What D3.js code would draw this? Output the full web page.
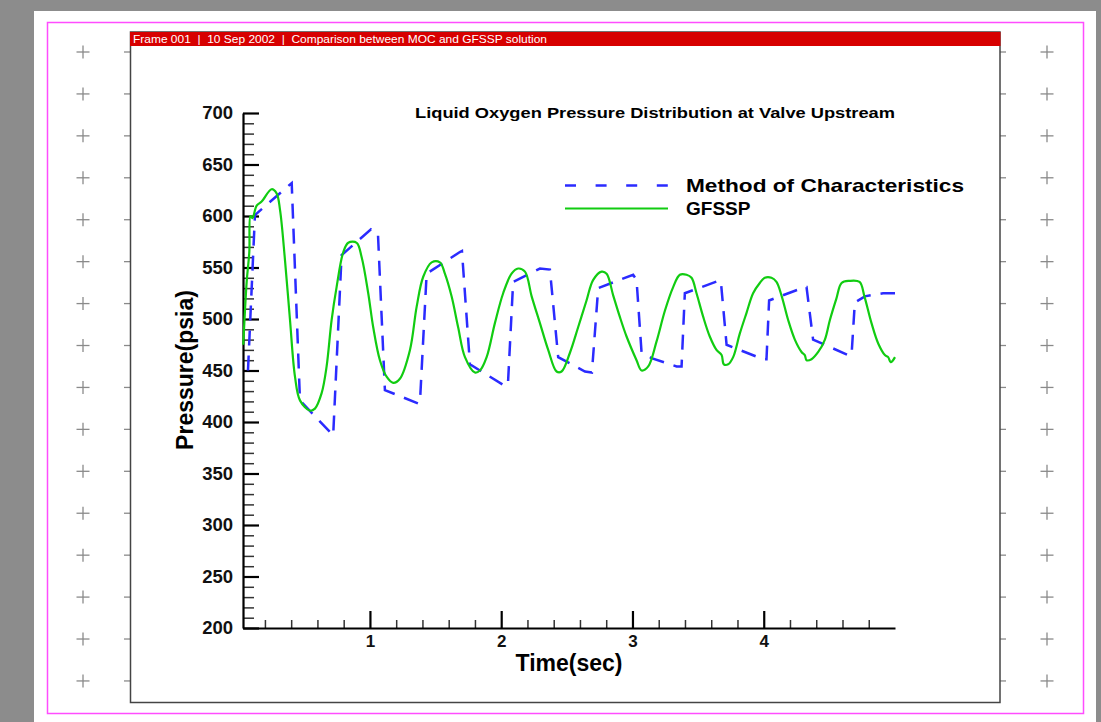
<!DOCTYPE html>
<html><head><meta charset="utf-8">
<script src="https://cdn.jsdelivr.net/npm/d3@7"></script>
<style>html,body{margin:0;padding:0;background:#fff;}svg{display:block;}</style>
</head><body>
<script>
// ---- data ----
const headerText = "Frame 001  |  10 Sep 2002  |  Comparison between MOC and GFSSP solution";
const chartTitle = "Liquid Oxygen Pressure Distribution at Valve Upstream";
const seriesNames = ["Method of Characteristics", "GFSSP"];
const xLabel = "Time(sec)";
const yLabel = "Pressure(psia)";
const xTicks = [1, 2, 3, 4];
const yTicks = [200, 250, 300, 350, 400, 450, 500, 550, 600, 650, 700];

const mocTime = [0.071,0.124,0.404,0.467,0.720,0.784,1.008,1.061,1.114,1.368,1.381,1.432,1.685,1.701,1.762,2.028,2.051,2.091,2.295,2.371,2.434,2.638,2.691,2.739,3.005,3.031,3.069,3.145,3.336,3.374,3.399,3.653,3.673,3.717,3.995,4.021,4.041,4.313,4.326,4.376,4.643,4.669,4.694,4.770,4.909,5.0];
const mocPressure = [450,601,632,421,387,562,587,583,431,418,419,544,565,566,456,435,436,536,549,548,463,449,448,530,543,538,468,462,454,454,525,537,537,475,461,461,518,531,531,480,465,465,516,522,525,525];

const gfsspTime = [0.035,0.061,0.081,0.090,0.105,0.137,0.175,0.251,0.289,0.315,0.353,0.391,0.429,0.467,0.543,0.581,0.632,0.670,0.708,0.746,0.797,0.835,0.899,0.937,0.987,1.025,1.076,1.127,1.177,1.228,1.305,1.356,1.406,1.470,1.533,1.571,1.622,1.672,1.724,1.800,1.838,1.889,1.952,2.015,2.079,2.129,2.181,2.232,2.295,2.358,2.422,2.460,2.523,2.586,2.650,2.701,2.765,2.803,2.853,2.904,2.955,3.031,3.069,3.120,3.183,3.247,3.310,3.361,3.412,3.450,3.488,3.539,3.589,3.640,3.679,3.696,3.729,3.767,3.818,3.869,3.919,3.970,4.008,4.059,4.097,4.135,4.186,4.237,4.288,4.313,4.326,4.364,4.415,4.466,4.504,4.554,4.593,4.652,4.730,4.767,4.821,4.873,4.923,4.948,4.967,4.985,5.0];
const gfsspPressure = [475,536,565,600,598,610,614,626,622,606,557,499,444,421,411,413,428,454,499,531,565,574,574,560,525,492,460,444,438,442,470,512,541,555,555,544,522,492,463,448,450,463,496,525,544,549,546,522,496,470,449,449,467,492,518,538,546,544,523,502,483,460,450,454,478,508,531,543,543,540,525,502,483,470,465,456,456,463,486,506,525,535,540,540,536,523,499,480,468,465,460,461,468,480,499,520,535,537,536,522,496,476,465,463,458,460,463];

// ---- layout ----
const W = 1101, H = 722;
const svg = d3.select("body").append("svg").attr("width", W).attr("height", H)
  .style("font-family", "'Liberation Sans', Arial, sans-serif");

svg.append("rect").attr("x",0).attr("y",0).attr("width",W).attr("height",H).attr("fill","#8c8c8c");
svg.append("rect").attr("x",34).attr("y",11).attr("width",1062).attr("height",H-11).attr("fill","#fff");
svg.append("rect").attr("x",47.5).attr("y",22.5).attr("width",1036).attr("height",691).attr("fill","none")
  .attr("stroke","#ff4dff").attr("stroke-width",1.5);

// registration crosses
const crossY = d3.range(16).map(k => 52 + 41.93*k);
const deco = svg.append("g").attr("stroke","#8a8a8a").attr("stroke-width",1.3);
crossY.forEach(cy => {
  [83, 1047].forEach(cx => {
    deco.append("line").attr("x1",cx-6.5).attr("x2",cx+6.5).attr("y1",cy).attr("y2",cy);
    deco.append("line").attr("x1",cx).attr("x2",cx).attr("y1",cy-6.5).attr("y2",cy+6.5);
  });
  deco.append("line").attr("x1",124).attr("x2",130).attr("y1",cy).attr("y2",cy);
  deco.append("line").attr("x1",1000).attr("x2",1006).attr("y1",cy).attr("y2",cy);
});

// frame
svg.append("rect").attr("x",130.5).attr("y",32).attr("width",869.5).attr("height",670.5)
  .attr("fill","#fff").attr("stroke","#444").attr("stroke-width",1.5);
svg.append("rect").attr("x",130).attr("y",32).attr("width",870.5).attr("height",14).attr("fill","#d70000");
svg.append("text").attr("x",133).attr("y",43).attr("fill","#fff").attr("font-size",10.5)
  .attr("textLength",414).attr("lengthAdjust","spacingAndGlyphs")
  .attr("xml:space","preserve").style("white-space","pre").text(headerText);

// scales
const x = d3.scaleLinear().domain([0.033, 5.0]).range([243, 895]);
const y = d3.scaleLinear().domain([200, 700]).range([628, 113]);

// minor ticks
const yMinor = d3.range(210, 700, 10).filter(v => v % 50 !== 0);
svg.append("g").attr("transform","translate(243,0)")
  .call(d3.axisLeft(y).tickValues(yMinor).tickSize(-11).tickFormat(""))
  .call(g => { g.select(".domain").remove(); g.selectAll("line").attr("stroke","#333").attr("stroke-width",1.5); });
const xMinor = d3.range(1, 25).map(k => k*0.2).filter(v => Math.abs(v - Math.round(v)) > 1e-6);
svg.append("g").attr("transform","translate(0,628)")
  .call(d3.axisBottom(x).tickValues(xMinor).tickSize(-8).tickFormat(""))
  .call(g => { g.select(".domain").remove(); g.selectAll("line").attr("stroke","#333").attr("stroke-width",1.5); });

// major axes
const yAxis = svg.append("g").attr("transform","translate(243,0)")
  .call(d3.axisLeft(y).tickValues(yTicks).tickSize(-16).tickSizeOuter(0).tickPadding(10));
yAxis.select(".domain").attr("stroke","#000").attr("stroke-width",2.2);
yAxis.selectAll("line").attr("stroke","#000").attr("stroke-width",2.2);
yAxis.selectAll("text").attr("font-size",18.5).attr("font-weight","bold").attr("fill","#111")
  .attr("font-family","'Liberation Sans', Arial, sans-serif");

const xAxis = svg.append("g").attr("transform","translate(0,628)")
  .call(d3.axisBottom(x).tickValues(xTicks).tickFormat(d3.format("d")).tickSize(-17).tickSizeOuter(0).tickPadding(7));
xAxis.select(".domain").attr("stroke","#000").attr("stroke-width",2.2);
xAxis.selectAll("line").attr("stroke","#000").attr("stroke-width",2.2);
xAxis.selectAll("text").attr("font-size",17).attr("font-weight","bold").attr("fill","#111")
  .attr("font-family","'Liberation Sans', Arial, sans-serif");

// axis titles
svg.append("text").attr("x",569).attr("y",671).attr("text-anchor","middle")
  .attr("font-size",23).attr("font-weight","bold").text(xLabel);
svg.append("text").attr("transform","translate(193,370) rotate(-90)").attr("text-anchor","middle")
  .attr("font-size",23).attr("font-weight","bold").text(yLabel);

// title
svg.append("text").attr("x",895).attr("y",118).attr("text-anchor","end")
  .attr("font-size",15).attr("font-weight","bold").attr("textLength",480).attr("lengthAdjust","spacingAndGlyphs")
  .text(chartTitle);

// curves
const line = d3.line().x(d => x(d[0])).y(d => y(d[1]));
const mocData = mocTime.map((t,i) => [t, mocPressure[i]]);
const gfData = gfsspTime.map((t,i) => [t, gfsspPressure[i]]);
svg.append("path").datum(mocData).attr("d", line).attr("fill","none")
  .attr("stroke","#2b2bff").attr("stroke-width",2.5).attr("stroke-dasharray","15,10");
svg.append("path").datum(gfData).attr("d", d3.line().x(d => x(d[0])).y(d => y(d[1])).curve(d3.curveCatmullRom.alpha(0.5)))
  .attr("fill","none").attr("stroke","#11cc11").attr("stroke-width",2.2);

// legend
const leg = svg.append("g");
leg.append("line").attr("x1",565).attr("x2",668).attr("y1",185.5).attr("y2",185.5)
  .attr("stroke","#2b2bff").attr("stroke-width",2.5).attr("stroke-dasharray","11,19.6");
leg.append("line").attr("x1",565).attr("x2",668).attr("y1",208.5).attr("y2",208.5)
  .attr("stroke","#11cc11").attr("stroke-width",2.2);
leg.append("text").attr("x",686).attr("y",191.5).attr("font-size",19).attr("font-weight","bold")
  .attr("textLength",278).attr("lengthAdjust","spacingAndGlyphs").text(seriesNames[0]);
leg.append("text").attr("x",686).attr("y",215).attr("font-size",19).attr("font-weight","bold").text(seriesNames[1]);
</script>
</body></html>
